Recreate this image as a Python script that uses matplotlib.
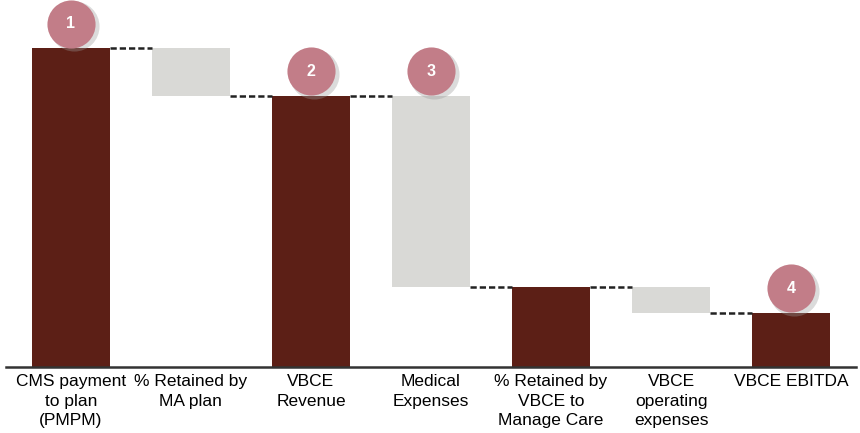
import numpy as np
import matplotlib.pyplot as plt

categories = ["CMS payment\nto plan\n(PMPM)", "% Retained by\nMA plan", "VBCE\nRevenue",
              "Medical\nExpenses", "% Retained by\nVBCE to\nManage Care",
              "VBCE\noperating\nexpenses", "VBCE EBITDA"]
# positive = total bar, negative = decrease step
steps = [100, -15, 85, -60, 25, -8, 17]
is_total = [True, False, True, False, True, False, True]
badge_at = [0, 2, 3, 6]

dark = "#5c1f16"
grey = "#d9d9d6"
pink = "#c27d88"

plt.rcParams['font.family'] = ['Liberation Sans', 'DejaVu Sans']

fig = plt.figure(figsize=(8.6, 4.33), dpi=100)
ax = fig.add_axes([6/860, 66/433, 850/860, 367/433])

x = np.arange(len(categories))
level = 0
tops, bottoms = [], []
for i, v in enumerate(steps):
    if is_total[i]:
        bottoms.append(0); tops.append(v); level = v
    else:
        tops.append(level); bottoms.append(level + v); level = level + v

w = 0.65
for i in x:
    ax.bar(i, tops[i] - bottoms[i], bottom=bottoms[i], width=w,
           color=dark if is_total[i] else grey, zorder=2)

# dashed connectors
for i in range(len(steps) - 1):
    y = bottoms[i] if not is_total[i] else tops[i]
    ax.plot([i + w/2, i + 1 - w/2], [y, y], color="#222222", lw=1.8,
            ls=(0, (2.5, 1.2)), zorder=3)

# numbered badges
for n, i in enumerate(badge_at, start=1):
    yb = tops[i] + 7.6
    ax.scatter([i + 0.025], [yb - 0.7], s=1300, color="#999999", alpha=0.35, zorder=3,
               linewidths=0)
    ax.scatter([i], [yb], s=1200, color=pink, zorder=4, linewidths=0)
    ax.text(i, yb, str(n), ha="center", va="center", color="white",
            fontsize=11.5, fontweight="bold", zorder=5)

ax.set_xlim(-0.54, 6.54)
ax.set_ylim(0, 115)
ax.set_xticks(x)
ax.set_xticklabels(categories, fontsize=12.5, linespacing=1.38)
ax.tick_params(axis="x", length=0, pad=5)
ax.set_yticks([])
for s in ["top", "right", "left"]:
    ax.spines[s].set_visible(False)
ax.spines["bottom"].set_color("#333333")
ax.spines["bottom"].set_linewidth(1.8)

fig.savefig("out.png", dpi=100)
